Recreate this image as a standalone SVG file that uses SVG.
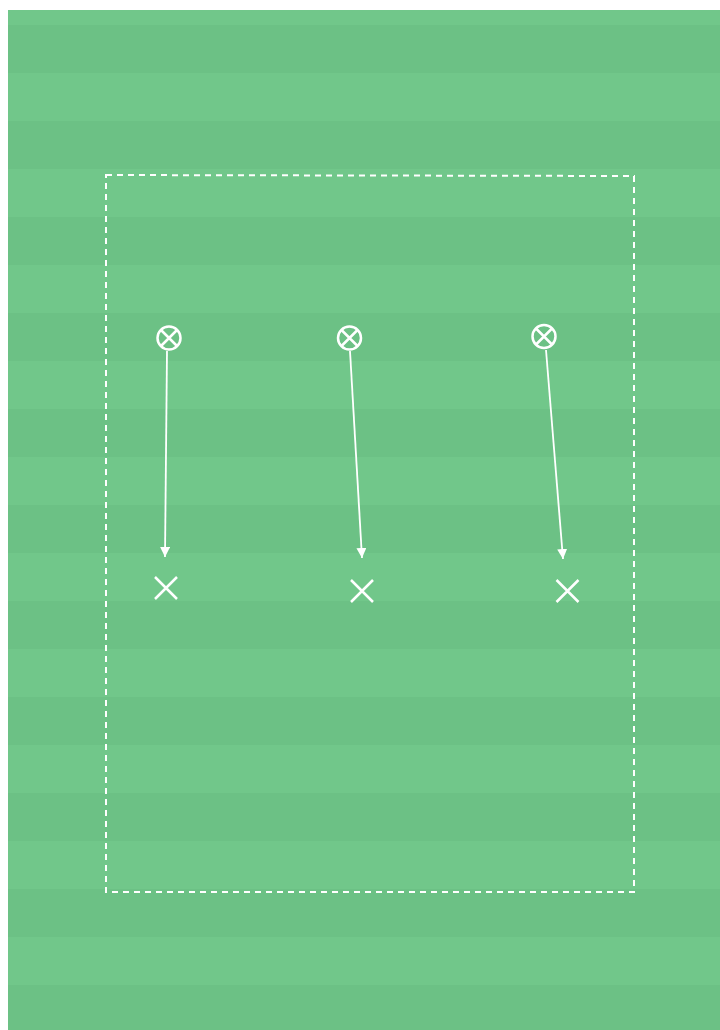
<svg xmlns="http://www.w3.org/2000/svg" width="720" height="1030" viewBox="0 0 720 1030">
<defs>
<pattern id="stripes" x="0" y="25" width="720" height="96" patternUnits="userSpaceOnUse">
<rect x="0" y="0" width="720" height="48" fill="#6cc185"/>
<rect x="0" y="48" width="720" height="48" fill="#71c78a"/>
</pattern>
<marker id="arr" viewBox="0 0 10 10" refX="10" refY="5" markerWidth="10" markerHeight="10" markerUnits="userSpaceOnUse" orient="auto">
<path d="M0,0 L10,5 L0,10 Z" fill="#ffffff"/>
</marker>
<style>
.player{fill:none;stroke:#ffffff;stroke-width:2.5}
.cross{stroke:#ffffff;stroke-width:2.5;stroke-linecap:butt}
.move{stroke:#ffffff;stroke-width:1.8;fill:none}
.area{fill:none;stroke:#ffffff;stroke-width:2;stroke-dasharray:6 5}
</style>
</defs>
<rect x="0" y="0" width="720" height="1030" fill="#ffffff"/>
<rect x="8" y="10" width="712" height="1020" fill="url(#stripes)"/>
<path class="area" d="M106,175 L634,176 L634,892 L106,892 Z"/>
<g id="connectors">
<line class="move" x1="167" y1="351" x2="165" y2="557" marker-end="url(#arr)"/>
<line class="move" x1="350" y1="351" x2="362" y2="558" marker-end="url(#arr)"/>
<line class="move" x1="546" y1="350" x2="563" y2="559" marker-end="url(#arr)"/>
</g>
<g id="p1">
<circle class="player" cx="169" cy="338" r="11.5"/>
<path class="cross" d="M161,330 L177,346 M177,330 L161,346"/>
</g>
<g id="p2">
<circle class="player" cx="349.5" cy="338" r="11.5"/>
<path class="cross" d="M341.5,330 L357.5,346 M357.5,330 L341.5,346"/>
</g>
<g id="p3">
<circle class="player" cx="544" cy="336.5" r="11.5"/>
<path class="cross" d="M536,328.5 L552,344.5 M552,328.5 L536,344.5"/>
</g>
<g id="x1">
<path class="cross" d="M155,577 L177,599 M177,577 L155,599"/>
</g>
<g id="x2">
<path class="cross" d="M351,580 L373,602 M373,580 L351,602"/>
</g>
<g id="x3">
<path class="cross" d="M556.5,580 L578.5,602 M578.5,580 L556.5,602"/>
</g>
</svg>
